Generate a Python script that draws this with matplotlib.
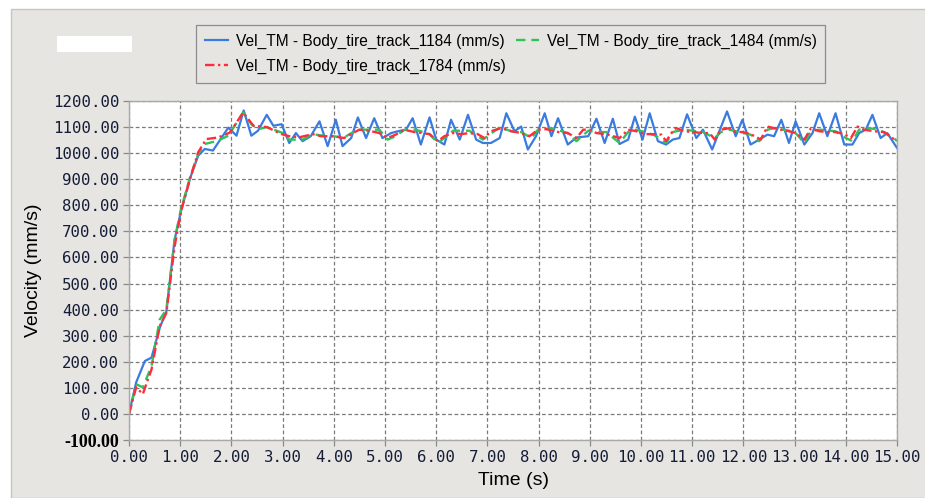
"""Velocity of three body tire tracks over time"""
import numpy as np
import matplotlib.pyplot as plt
from matplotlib.patches import Rectangle

# (time s, velocity mm/s)
track_1184 = [
    (0, 0), (0.14, 121), (0.31, 203), (0.44, 216), (0.6, 330), (0.73, 394),
    (0.89, 667), (1.02, 781), (1.19, 902), (1.35, 990), (1.48, 1016), (1.64, 1010),
    (1.81, 1060), (1.94, 1098), (2.1, 1067), (2.24, 1164), (2.39, 1067), (2.52, 1086),
    (2.69, 1147), (2.82, 1105), (2.98, 1111), (3.13, 1039), (3.26, 1077), (3.39, 1046),
    (3.55, 1065), (3.72, 1122), (3.88, 1027), (4.04, 1128), (4.17, 1027), (4.34, 1058),
    (4.47, 1137), (4.63, 1058), (4.79, 1134), (4.95, 1058), (5.12, 1077), (5.25, 1084),
    (5.41, 1090), (5.54, 1134), (5.7, 1033), (5.87, 1137), (6.0, 1052), (6.16, 1033),
    (6.29, 1128), (6.46, 1052), (6.62, 1147), (6.78, 1052), (6.91, 1039), (7.07, 1039),
    (7.24, 1058), (7.37, 1153), (7.53, 1084), (7.66, 1102), (7.79, 1014), (7.95, 1065),
    (8.12, 1153), (8.25, 1065), (8.38, 1134), (8.57, 1033), (8.74, 1060), (8.97, 1065),
    (9.13, 1132), (9.29, 1039), (9.45, 1132), (9.58, 1035), (9.75, 1052), (9.88, 1140),
    (10.03, 1052), (10.17, 1153), (10.33, 1046), (10.49, 1033), (10.62, 1052), (10.75, 1058),
    (10.9, 1149), (11.08, 1058), (11.21, 1090), (11.39, 1014), (11.53, 1084), (11.68, 1160),
    (11.85, 1065), (11.98, 1128), (12.14, 1033), (12.31, 1052), (12.47, 1071), (12.6, 1065),
    (12.74, 1128), (12.89, 1039), (13.02, 1122), (13.19, 1033), (13.35, 1077), (13.48, 1153),
    (13.64, 1065), (13.8, 1153), (13.97, 1033), (14.13, 1033), (14.26, 1077), (14.39, 1090),
    (14.52, 1147), (14.68, 1058), (14.81, 1077), (15.0, 1020),
]
track_1484 = [
    (0, 0), (0.14, 114), (0.27, 102), (0.44, 184), (0.6, 362), (0.73, 400),
    (0.89, 667), (1.02, 790), (1.19, 905), (1.35, 997), (1.48, 1035), (1.74, 1048),
    (1.94, 1067), (2.23, 1156), (2.39, 1111), (2.52, 1092), (2.69, 1100), (2.98, 1079),
    (3.13, 1052), (3.39, 1052), (3.59, 1073), (3.75, 1068), (3.98, 1065), (4.2, 1060),
    (4.37, 1080), (4.5, 1090), (4.69, 1090), (4.89, 1090), (5.05, 1052), (5.21, 1065),
    (5.38, 1090), (5.6, 1090), (5.87, 1073), (6.03, 1039), (6.16, 1058), (6.33, 1086),
    (6.49, 1086), (6.65, 1086), (6.91, 1052), (7.07, 1075), (7.24, 1099), (7.47, 1084),
    (7.66, 1081), (7.86, 1058), (7.99, 1090), (8.25, 1096), (8.57, 1077), (8.74, 1046),
    (8.97, 1086), (9.13, 1081), (9.32, 1081), (9.58, 1039), (9.75, 1081), (9.91, 1090),
    (10.07, 1081), (10.27, 1068), (10.49, 1039), (10.62, 1081), (10.85, 1090), (11.01, 1086),
    (11.21, 1081), (11.44, 1058), (11.56, 1081), (11.73, 1090), (11.85, 1084), (12.14, 1071),
    (12.31, 1046), (12.47, 1090), (12.6, 1096), (12.89, 1086), (13.02, 1077), (13.19, 1039),
    (13.32, 1086), (13.51, 1090), (13.8, 1084), (14.0, 1058), (14.13, 1046), (14.26, 1090),
    (14.45, 1096), (14.65, 1090), (14.94, 1058), (15.0, 1046),
]
track_1784 = [
    (0, 0), (0.14, 102), (0.27, 76), (0.44, 171), (0.6, 337), (0.73, 387),
    (0.89, 641), (1.02, 780), (1.19, 900), (1.35, 1003), (1.51, 1054), (1.74, 1060),
    (1.97, 1079), (2.23, 1156), (2.43, 1105), (2.69, 1100), (2.98, 1073), (3.13, 1065),
    (3.33, 1061), (3.59, 1073), (3.75, 1065), (3.98, 1065), (4.2, 1058), (4.37, 1077),
    (4.5, 1090), (4.69, 1086), (4.89, 1077), (5.05, 1058), (5.21, 1071), (5.38, 1090),
    (5.57, 1081), (5.87, 1073), (6.03, 1046), (6.16, 1065), (6.33, 1077), (6.49, 1073),
    (6.65, 1077), (6.81, 1073), (6.94, 1058), (7.07, 1084), (7.27, 1096), (7.47, 1084),
    (7.66, 1077), (7.82, 1065), (7.99, 1090), (8.15, 1092), (8.38, 1081), (8.57, 1077),
    (8.74, 1058), (8.87, 1090), (9.0, 1090), (9.13, 1077), (9.32, 1073), (9.58, 1058),
    (9.75, 1090), (9.91, 1084), (10.07, 1073), (10.27, 1073), (10.4, 1071), (10.49, 1046),
    (10.62, 1084), (10.69, 1096), (10.85, 1084), (11.01, 1081), (11.21, 1077), (11.34, 1077),
    (11.44, 1052), (11.56, 1090), (11.73, 1096), (11.85, 1081), (11.98, 1081), (12.14, 1073),
    (12.34, 1052), (12.47, 1102), (12.6, 1096), (12.73, 1090), (12.89, 1084), (13.02, 1077),
    (13.19, 1052), (13.32, 1096), (13.48, 1084), (13.64, 1081), (13.8, 1081), (13.97, 1073),
    (14.1, 1058), (14.23, 1102), (14.36, 1090), (14.55, 1084), (14.75, 1081), (14.91, 1058),
    (15.0, 1046),
]
labels = ['Vel_TM - Body_tire_track_1184 (mm/s)',
          'Vel_TM - Body_tire_track_1484 (mm/s)',
          'Vel_TM - Body_tire_track_1784 (mm/s)']
x_ticks = [0, 1, 2, 3, 4, 5, 6, 7, 8, 9, 10, 11, 12, 13, 14, 15]
y_ticks = [-100, 0, 100, 200, 300, 400, 500, 600, 700, 800, 900, 1000, 1100, 1200]

W, H = 925, 498
PANEL = '#e6e5e2'
TXT = '#141c36'

fig = plt.figure(figsize=(W / 100, H / 100), dpi=100)
fig.patch.set_facecolor('white')
fig.patches.append(Rectangle((11 / W, 0), 1, 1 - 9 / H, transform=fig.transFigure,
                             facecolor=PANEL, edgecolor='#c4c4c4', lw=1, zorder=-10))
fig.patches.append(Rectangle((57 / W, 1 - 52 / H), 75 / W, 16 / H, transform=fig.transFigure,
                             facecolor='white', edgecolor='none', zorder=-9))

ax = fig.add_axes([129 / W, (H - 440) / H, (897 - 129) / W, (440 - 101) / H])
ax.set_facecolor('white')

styles = [dict(color='#3a7be0', ls='-', lw=1.6),
          dict(color='#2fc35a', ls=(0, (4, 2.5)), lw=1.7),
          dict(color='#ff2d3c', ls=(0, (4, 1.5, 1, 1.5)), lw=1.7)]
handles = []
for data, lab, st in zip([track_1184, track_1484, track_1784], labels, styles):
    t, v = zip(*data)
    h, = ax.plot(t, v, label=lab, **st)
    handles.append(h)

ax.set_xlim(0, 15)
ax.set_ylim(-100, 1200)
ax.set_xticks(x_ticks)
ax.set_yticks(y_ticks)
ax.set_xticklabels(['%.2f' % x for x in x_ticks], family='DejaVu Sans Mono', fontsize=11.3, color=TXT)
ax.set_yticklabels(['%.2f' % y for y in y_ticks], family='DejaVu Sans Mono', fontsize=11.3, color=TXT)
ax.get_yticklabels()[0].set_fontproperties({'family': 'Liberation Serif', 'weight': 'bold', 'size': 13})
ax.get_yticklabels()[0].set_color('black')
ax.grid(True, color='#7a7a7a', ls=(0, (3, 2)), lw=0.9)
ax.tick_params(length=4, width=0.9, color='#8a8a8a', pad=3)
for s in ax.spines.values():
    s.set_color('#a8a8a8')
    s.set_linewidth(1.0)

ax.set_xlabel('Time (s)', family='Liberation Sans', fontsize=14, labelpad=5)
ax.set_ylabel('Velocity (mm/s)', family='Liberation Sans', fontsize=14, labelpad=8)

leg = fig.legend([handles[0], handles[2], handles[1]],
                 [labels[0], labels[2], labels[1]],
                 ncol=2, loc='upper left', bbox_to_anchor=(196 / W, 1 - 25 / H),
                 prop={'family': 'Liberation Sans', 'size': 11.2},
                 fancybox=False, framealpha=1, facecolor=PANEL, edgecolor='#8c8c8c',
                 handlelength=1.5, handletextpad=0.5, columnspacing=0.65,
                 borderpad=0.55, labelspacing=0.65, borderaxespad=0)
leg.get_frame().set_linewidth(0.9)

fig.savefig('out.png', dpi=100)
